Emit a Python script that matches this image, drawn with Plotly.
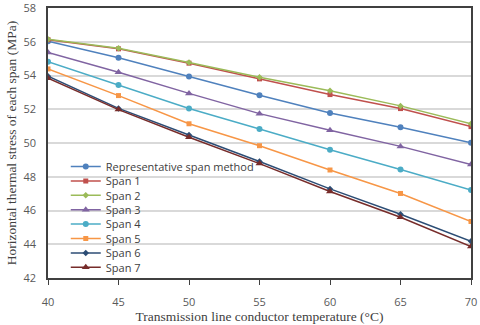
# Horizontal thermal stress vs conductor temperature
import plotly.graph_objects as go

temps = [40, 45, 50, 55, 60, 65, 70]

series_names = [
    "Representative span method", "Span 1", "Span 2", "Span 3",
    "Span 4", "Span 5", "Span 6", "Span 7",
]

rep_span = [56.03, 55.05, 53.94, 52.83, 51.78, 50.93, 50.02]
span1 = [56.12, 55.58, 54.73, 53.80, 52.87, 52.04, 50.97]
span2 = [56.15, 55.62, 54.77, 53.90, 53.10, 52.20, 51.14]
span3 = [55.36, 54.19, 52.94, 51.74, 50.75, 49.80, 48.73]
span4 = [54.81, 53.44, 52.05, 50.83, 49.60, 48.43, 47.21]
span5 = [54.39, 52.81, 51.14, 49.84, 48.40, 47.01, 45.35]
span6 = [53.96, 52.05, 50.47, 48.90, 47.28, 45.78, 44.18]
span7 = [53.84, 51.98, 50.34, 48.78, 47.13, 45.60, 43.86]

all_series = [rep_span, span1, span2, span3, span4, span5, span6, span7]

colors = ["#4F81BD", "#C0504D", "#9BBB59", "#8064A2",
          "#4BACC6", "#F79646", "#2C4D75", "#772C2A"]
symbols = ["circle", "square", "diamond", "triangle-up",
           "circle", "square", "diamond", "triangle-up"]
msizes = [6, 5, 5, 7, 6, 5, 5, 7]

fig = go.Figure()

# one legend per trace so the entries can sit closer than plotly's default spacing
for i, (name, vals) in enumerate(zip(series_names, all_series)):
    lg = "legend" if i == 0 else "legend%d" % (i + 1)
    fig.add_trace(
        go.Scatter(
            x=temps, y=vals, name=name, mode="lines+markers",
            line=dict(color=colors[i], width=1.5),
            marker=dict(symbol=symbols[i], size=msizes[i], color=colors[i]),
            legend=lg, showlegend=True,
        )
    )

plot_top, plot_bot = 8, 278
ph = plot_bot - plot_top
legend_layout = {}
for i in range(len(series_names)):
    key = "legend" if i == 0 else "legend%d" % (i + 1)
    py = 166.5 + i * 14.4
    legend_layout[key] = dict(
        x=0.042, xanchor="left",
        y=(plot_bot - py) / ph, yanchor="middle",
        bgcolor="rgba(0,0,0,0)",
        font=dict(family="Open Sans", size=11, color="#404040"),
    )

fig.update_layout(
    width=480, height=325,
    margin=dict(l=48, r=9, t=8, b=47),
    plot_bgcolor="white", paper_bgcolor="white",
    **legend_layout,
)

fig.update_xaxes(
    range=[40, 70], tickvals=temps, automargin=False,
    showgrid=False, zeroline=False,
    showline=True, linecolor="#404040", linewidth=1.5, mirror=True,
    ticks="outside", ticklen=5, tickcolor="#404040",
    ticklabelstandoff=8, ticklabeloverflow="allow",
    tickfont=dict(family="Open Sans", size=11, color="#595959"),
    title=dict(text="Transmission line conductor temperature (°C)",
               font=dict(family="Liberation Serif", size=13.5, color="#404040"),
               standoff=1),
)
fig.update_yaxes(
    range=[42, 58], dtick=2, automargin=False,
    showgrid=True, gridcolor="#D9D9D9", gridwidth=1.5, zeroline=False,
    showline=True, linecolor="#404040", linewidth=1.5, mirror=True,
    ticks="", ticklabelstandoff=8, ticklabeloverflow="allow",
    tickfont=dict(family="Open Sans", size=11, color="#595959"),
    title=dict(text="Horizontal thermal stress of each span (MPa)",
               font=dict(family="Liberation Serif", size=13.5, color="#404040"),
               standoff=4),
)

# drop the browser's default body margin so the 480x325 figure fills the window
fig.write_html("out.html", config={"displayModeBar": False},
               post_script="document.body.style.margin='0';")
